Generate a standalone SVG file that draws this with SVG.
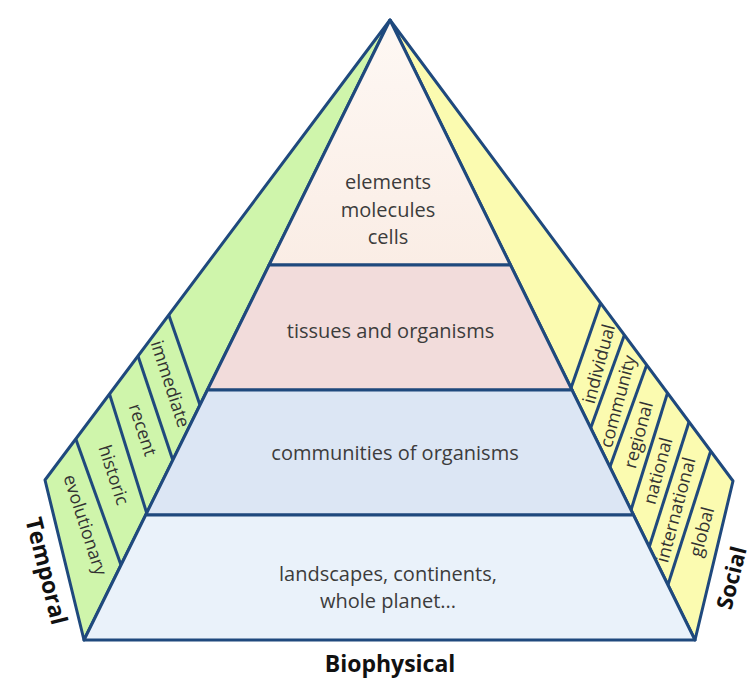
<svg xmlns="http://www.w3.org/2000/svg" width="752" height="681" viewBox="0 0 752 681">
<defs>
<linearGradient id="gTop" x1="0" y1="0" x2="0" y2="1">
<stop offset="0" stop-color="#FEF8F4"/>
<stop offset="1" stop-color="#FAEDE5"/>
</linearGradient>
<style>
.edge{stroke:#1F497D;stroke-width:3;stroke-linejoin:round;fill:none}
.tx{font-family:"Open Sans","Liberation Sans",sans-serif;font-size:20px;fill:#3C3C3C;text-anchor:middle}
.sl{font-family:"Open Sans","Liberation Sans",sans-serif;font-size:18px;fill:#333333;text-anchor:middle}
.ax{font-family:"Open Sans","Liberation Sans",sans-serif;font-size:23px;font-weight:bold;fill:#111111;text-anchor:middle}
</style>
</defs>
<rect width="752" height="681" fill="#FFFFFF"/>

<g id="panel-temporal">
<polygon points="390,20 45,480 84,640" class="edge" style="fill:#CFF5AB"/>
<g class="edge">
<line x1="75.8" y1="439" x2="121" y2="565"/>
<line x1="109.5" y1="394" x2="146.7" y2="513"/>
<line x1="138" y1="356" x2="172.8" y2="460"/>
<line x1="168.8" y1="315" x2="200" y2="405"/>
</g>
<text class="sl" transform="translate(85,525) rotate(72)" dy="0.33em">evolutionary</text>
<text class="sl" transform="translate(113.5,475) rotate(72)" dy="0.33em">historic</text>
<text class="sl" transform="translate(142.5,430) rotate(72)" dy="0.33em">recent</text>
<text class="sl" transform="translate(170,384) rotate(72)" dy="0.33em">immediate</text>
<text class="ax" transform="translate(46,571) rotate(76)" dy="0.33em">Temporal</text>
</g>

<g id="panel-social">
<polygon points="390,20 733,481 695,640" class="edge" style="fill:#FBFBB0"/>
<g class="edge">
<line x1="600.6" y1="303" x2="571" y2="388"/>
<line x1="624.4" y1="335" x2="590.7" y2="428"/>
<line x1="646.7" y1="365" x2="609.9" y2="467"/>
<line x1="667.5" y1="393" x2="631" y2="510"/>
<line x1="689" y1="422" x2="649.2" y2="547"/>
<line x1="710.7" y1="451" x2="667.9" y2="585"/>
</g>
<text class="sl" transform="translate(599,364) rotate(-75)" dy="0.33em">individual</text>
<text class="sl" transform="translate(618,401.5) rotate(-75)" dy="0.33em">community</text>
<text class="sl" transform="translate(638.5,435) rotate(-75)" dy="0.33em">regional</text>
<text class="sl" transform="translate(658,471) rotate(-75)" dy="0.33em">national</text>
<text class="sl" transform="translate(676,510) rotate(-75)" dy="0.33em">international</text>
<text class="sl" transform="translate(702,532) rotate(-75)" dy="0.33em">global</text>
<text class="ax" transform="translate(732,578) rotate(-76)" dy="0.33em" style="font-size:22px">Social</text>
</g>

<g id="tier-elements">
<polygon points="390,20 269.1,265 510.5,265" class="edge" style="fill:url(#gTop)"/>
<text class="tx" x="388" y="189">elements</text>
<text class="tx" x="388" y="216.5">molecules</text>
<text class="tx" x="388" y="244">cells</text>
</g>

<g id="tier-organisms">
<polygon points="269.1,265 510.5,265 572,390 207.4,390" class="edge" style="fill:#F2DCDB"/>
<text class="tx" x="390.5" y="337.5">tissues and organisms</text>
</g>

<g id="tier-communities">
<polygon points="207.4,390 572,390 633.5,515 145.7,515" class="edge" style="fill:#DCE6F4"/>
<text class="tx" x="395" y="460">communities of organisms</text>
</g>

<g id="tier-landscapes">
<polygon points="145.7,515 633.5,515 695,640 84,640" class="edge" style="fill:#EAF2FA"/>
<text class="tx" x="388" y="581">landscapes, continents,</text>
<text class="tx" x="388" y="608">whole planet...</text>
</g>

<g id="axis-biophysical">
<text class="ax" x="390" y="672">Biophysical</text>
</g>

<g id="connectors"></g>
</svg>
